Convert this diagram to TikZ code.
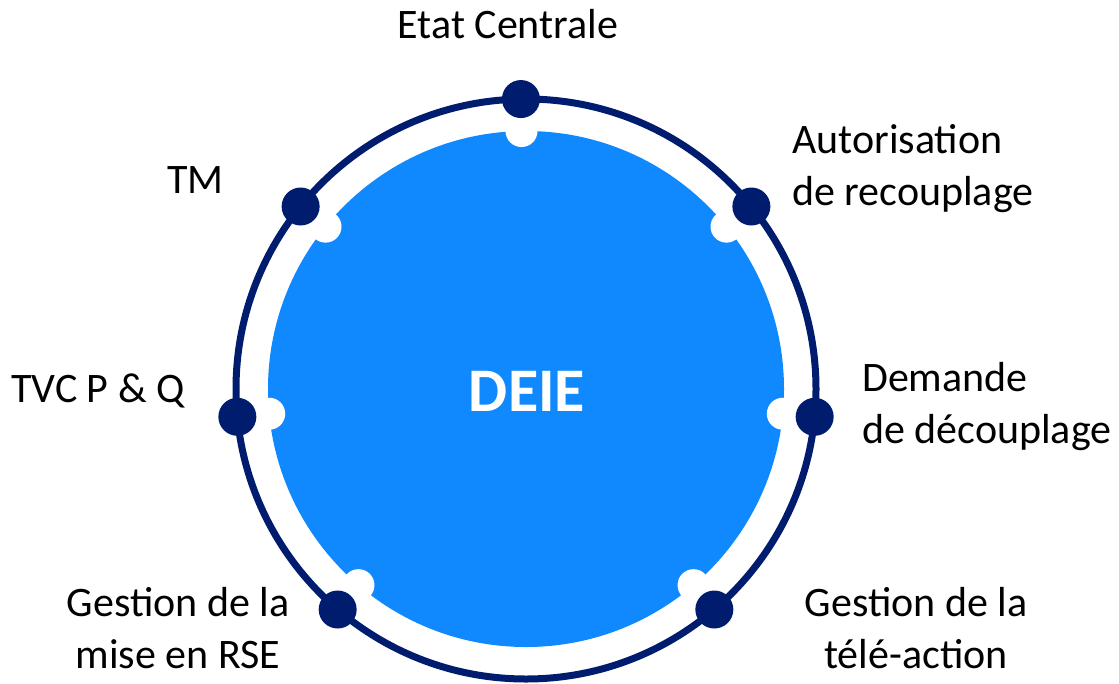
\documentclass[tikz,border=0pt]{standalone}
\usepackage{fontspec}
\setmainfont{Carlito}
\usetikzlibrary{calc}
\definecolor{navy}{RGB}{0,28,110}
\definecolor{deieblue}{RGB}{16,137,255}
\tikzset{
  dotnode/.style={circle, fill=navy, inner sep=0pt, minimum size=38pt},
  notchnode/.style={circle, fill=white, inner sep=0pt, minimum size=32pt},
  lbl/.style={inner sep=0pt, font=\fontsize{42}{52}\selectfont, text=black},
}
\begin{document}
\begin{tikzpicture}[x=1pt,y=1pt]
\useasboundingbox (0,0) rectangle (1119,-683);
\coordinate (c) at (526,-389);
% outer ring
\draw[navy, line width=7pt] (c) circle[radius=290];
% inner disk
\node[circle, fill=deieblue, inner sep=0pt, minimum size=516pt] (disk) at (c) {};
% notches
\foreach \a/\n in {91/n1,141/n2,39/n3,185.5/n4,-5.5/n5,229.5/n6,-49.5/n7}{
  \node[notchnode] (\n) at ($(c)+(\a:258)$) {};
}
% dots
\foreach \a/\n in {91/d1,141/d2,39/d3,185.5/d4,-5.5/d5,229.5/d6,-49.5/d7}{
  \node[dotnode] (\n) at ($(c)+(\a:290)$) {};
}
% center label
\node[inner sep=0pt, text=white, font=\fontsize{62}{74}\selectfont\bfseries, anchor=base] (deie) at (527,-411) {DEIE};
% labels
\node[lbl, anchor=base] (t1) at (508,-38) {Etat Centrale};
\node[lbl, anchor=base west] (t2) at (167,-193) {TM};
\node[lbl, anchor=base west, align=left] (t3) at (792,-205) {Autorisation\\de recouplage};
\node[lbl, anchor=base west] (t4) at (11,-402) {TVC P \& Q};
\node[lbl, anchor=base west, align=left] (t5) at (862,-443) {Demande\\de découplage};
\node[lbl, anchor=base, align=center] (t6) at (178,-668) {Gestion de la\\mise en RSE};
\node[lbl, anchor=base, align=center] (t7) at (916,-668) {Gestion de la\\télé-action};
\end{tikzpicture}
\end{document}
